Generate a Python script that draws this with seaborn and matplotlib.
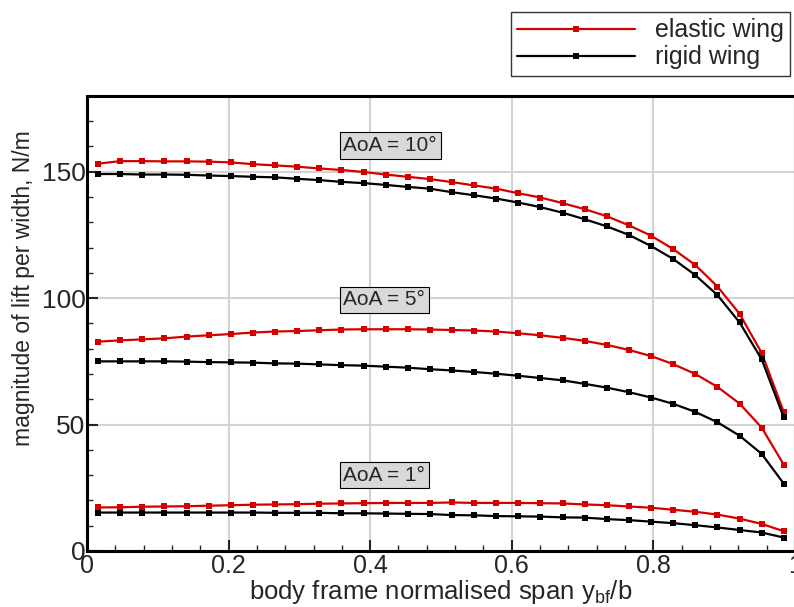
import numpy as np
import pandas as pd
import matplotlib
matplotlib.use("Agg")
import matplotlib.pyplot as plt
import seaborn as sns
from matplotlib.ticker import MultipleLocator
from matplotlib.lines import Line2D

# ---- data ----
span = [(2 * k + 1) / 64 for k in range(32)]

elastic_10 = [153.2, 154.2, 154.2, 154.1, 154.1, 154.0, 153.7, 153.0, 152.5, 152.0, 151.3, 150.7,
              149.9, 148.9, 148.0, 147.1, 145.9, 144.6, 143.3, 141.5, 139.8, 137.6, 135.2, 132.4,
              128.8, 124.7, 119.4, 113.1, 104.6, 93.8, 78.3, 54.9]
rigid_10 = [149.1, 149.1, 148.9, 148.9, 148.8, 148.5, 148.3, 148.0, 147.8, 147.2, 146.7, 146.0,
            145.5, 144.8, 144.0, 143.3, 141.9, 140.7, 139.4, 137.8, 136.0, 133.8, 131.2, 128.4,
            125.0, 120.6, 115.5, 109.1, 101.2, 90.4, 75.8, 52.8]
elastic_5 = [82.8, 83.3, 83.7, 84.1, 84.8, 85.3, 85.8, 86.4, 86.8, 87.0, 87.3, 87.6,
             87.7, 87.7, 87.7, 87.6, 87.4, 87.2, 86.8, 86.1, 85.3, 84.3, 83.1, 81.5,
             79.5, 77.1, 73.9, 70.0, 64.9, 58.3, 48.8, 34.1]
rigid_5 = [75.0, 75.0, 75.0, 75.0, 74.9, 74.7, 74.6, 74.5, 74.2, 74.1, 73.8, 73.5,
           73.3, 72.9, 72.5, 71.9, 71.4, 70.8, 70.1, 69.3, 68.4, 67.5, 66.1, 64.6,
           62.8, 60.7, 58.2, 55.0, 50.9, 45.6, 38.4, 26.6]
elastic_1 = [17.2, 17.3, 17.5, 17.6, 17.7, 17.9, 18.1, 18.3, 18.4, 18.5, 18.7, 18.8,
             18.9, 19.0, 19.0, 19.0, 19.2, 19.0, 19.0, 19.0, 18.9, 18.8, 18.4, 18.1,
             17.6, 17.1, 16.3, 15.5, 14.4, 12.8, 10.7, 7.8]
rigid_1 = [15.2, 15.2, 15.2, 15.2, 15.2, 15.2, 15.2, 15.2, 15.1, 15.1, 15.1, 14.9,
           14.9, 14.8, 14.7, 14.6, 14.2, 14.1, 13.8, 13.7, 13.6, 13.3, 13.2, 12.6,
           12.2, 11.6, 11.0, 10.2, 9.3, 8.3, 7.3, 5.3]

aoa_labels = ["AoA = 10°", "AoA = 5°", "AoA = 1°"]
aoa_label_x = [0.362, 0.362, 0.362]
aoa_label_y = [160.3, 99.3, 30.0]

series_names = ["elastic wing", "rigid wing"]
series_colors = ["#d40000", "#000000"]

# ---- style ----
sns.set_style("white")
plt.rcParams["font.family"] = ["Liberation Sans", "DejaVu Sans"]
plt.rcParams["mathtext.default"] = "regular"

fig = plt.figure(figsize=(7.94, 6.07), dpi=100)
ax = fig.add_axes([0.1096, 0.0923, 0.8915, 0.7497])

groups = [(elastic_10, rigid_10), (elastic_5, rigid_5), (elastic_1, rigid_1)]
for el, rg in groups:
    for vals, col in zip((el, rg), series_colors):
        df = pd.DataFrame({"x": span, "y": vals})
        sns.lineplot(data=df, x="x", y="y", ax=ax, color=col, lw=1.6,
                     marker="s", markersize=4, markeredgewidth=0, estimator=None,
                     sort=False, legend=False)

for lab, lx, ly in zip(aoa_labels, aoa_label_x, aoa_label_y):
    ax.text(lx, ly, lab, fontsize=15, ha="left", va="center",
            bbox=dict(boxstyle="square,pad=0.18", fc="#d9d9d9", ec="black", lw=0.8))

ax.set_xlim(0, 1)
ax.set_ylim(0, 180)
ax.xaxis.set_major_locator(MultipleLocator(0.2))
ax.xaxis.set_minor_locator(MultipleLocator(0.04))
ax.yaxis.set_major_locator(MultipleLocator(50))
ax.yaxis.set_minor_locator(MultipleLocator(10))
ax.set_xticks([0, 0.2, 0.4, 0.6, 0.8, 1.0])
ax.set_xticklabels(["0", "0.2", "0.4", "0.6", "0.8", "1"])
ax.grid(True, which="major", color="#d3d3d3", lw=1.5)
ax.set_axisbelow(True)
ax.tick_params(which="major", direction="in", length=8, width=1.5, labelsize=18,
               bottom=True, left=True, top=False, right=False, pad=2)
ax.tick_params(axis="y", which="major", labelsize=19, pad=1)
ax.tick_params(which="minor", direction="in", length=4, width=1.0,
               bottom=True, left=True, top=False, right=False)
for s in ax.spines.values():
    s.set_linewidth(2.2)
    s.set_color("black")

ax.set_xlabel("body frame normalised span y$_{bf}$/b", fontsize=18.5, labelpad=0)
ax.set_ylabel("magnitude of lift per width, N/m", fontsize=16.5)
ax.yaxis.set_label_coords(-0.074, 0.578)

handles = [Line2D([0], [0], color=c, lw=1.6, marker="s", markersize=4, markeredgewidth=0)
           for c in series_colors]
leg = fig.legend(handles, series_names, loc="upper left", bbox_to_anchor=(0.6436, 0.98),
                 fontsize=18, frameon=True, fancybox=False, handlelength=4.7,
                 borderpad=0.25, labelspacing=0.12, handletextpad=0.8, borderaxespad=0)
leg.get_frame().set_edgecolor("black")
leg.get_frame().set_linewidth(1.0)

fig.savefig("out.png", dpi=100)
